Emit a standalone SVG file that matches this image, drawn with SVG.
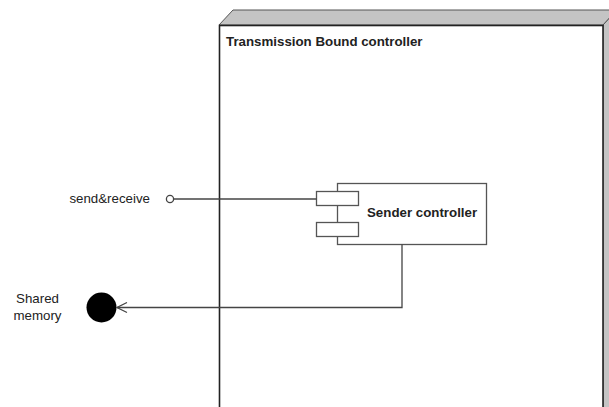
<svg xmlns="http://www.w3.org/2000/svg" width="609" height="407" viewBox="0 0 609 407">
  <style>
    text { font-family: "Liberation Sans", Arial, sans-serif; font-size: 13.3px; fill: #222; }
    .bold { font-weight: bold; }
    .edge { fill: none; stroke: #444; stroke-width: 1.3; }
    .comp { fill: #fff; stroke: #555; stroke-width: 1.3; }
  </style>
  <defs>
    <marker id="open" markerWidth="12" markerHeight="12" refX="11" refY="6" orient="auto" markerUnits="userSpaceOnUse">
      <path d="M1,1 L11,6 L1,11" fill="none" stroke="#444" stroke-width="1.2"/>
    </marker>
  </defs>

  <!-- deployment node: 3D box -->
  <g id="node-transmission">
    <polygon points="219,25 233,10 617,10 603,25" fill="#c4c4c4" stroke="#555" stroke-width="1"/>
    <polygon points="603,25 617,10 617,420 603,420" fill="#c4c4c4" stroke="#555" stroke-width="1"/>
    <rect x="219.5" y="25.5" width="383.5" height="400" fill="#fff" stroke="#222" stroke-width="1.6"/>
    <text class="bold" x="226" y="46">Transmission Bound controller</text>
  </g>

  <!-- component -->
  <g id="sender-controller">
    <rect class="comp" x="337.5" y="183.5" width="149" height="61"/>
    <rect class="comp" x="316.5" y="191.5" width="42" height="14"/>
    <rect class="comp" x="316.5" y="222.5" width="42" height="14"/>
    <text class="bold" x="367" y="217">Sender controller</text>
  </g>

  <!-- provided interface -->
  <g id="send-receive">
    <circle cx="170" cy="199" r="3.6" fill="#fff" stroke="#444" stroke-width="1.3"/>
    <text x="150" y="203" text-anchor="end">send&amp;receive</text>
  </g>

  <!-- shared memory -->
  <g id="shared-memory">
    <circle cx="101.5" cy="307.5" r="15" fill="#000"/>
    <text x="37.5" y="303" text-anchor="middle">Shared</text>
    <text x="37.5" y="320" text-anchor="middle">memory</text>
  </g>

  <!-- connectors -->
  <g id="connectors">
    <line class="edge" x1="173.6" y1="199" x2="316.5" y2="199"/>
    <polyline class="edge" points="402,244.5 402,307.5 117,307.5" marker-end="url(#open)"/>
  </g>
</svg>
